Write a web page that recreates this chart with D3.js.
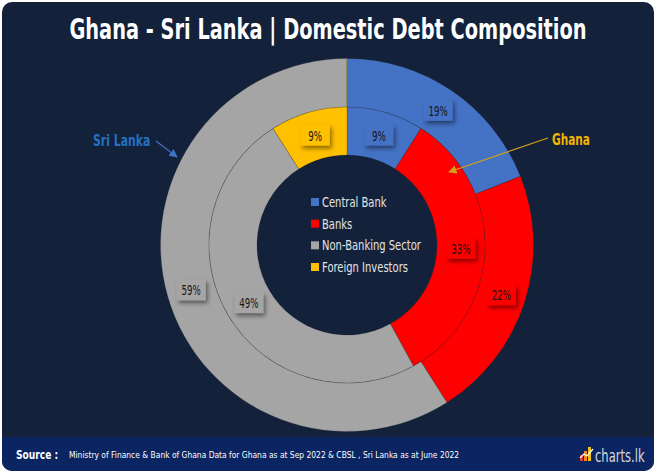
<!DOCTYPE html>
<html lang="en">
<head>
    <meta charset="UTF-8">
    <title>Ghana - Sri Lanka Domestic Debt</title>
    <style>
        body { margin: 0; background: #fff; }
        text { font-family: "DejaVu Sans", "Roboto", sans-serif; }
    </style>
    <script src="https://cdn.jsdelivr.net/npm/d3@7"></script>
</head>
<body>
<svg class="chart" width="656" height="473"></svg>
<script>
    // data
    const categories = ['Central Bank', 'Banks', 'Non-Banking Sector', 'Foreign Investors'];
    const sriLanka = [19, 22, 59, 0];   // outer ring
    const ghana = [9, 33, 49, 9];       // inner ring
    const colors = ['#4472c4', '#ff0000', '#a5a5a5', '#ffc000'];

    const W = 656, H = 473,
        cx = 347, cy = 245,
        rOuter = 186.5, rMid = 138, rHole = 90;

    const svg = d3.select('.chart');

    // no condensed font here, so text gets squeezed with a scaleX on its own group
    function squeezed(parent, x, y, k) {
        return parent.append('g').attr('transform', 'translate(' + x + ',' + y + ') scale(' + k + ',1)')
            .append('text');
    }

    // drop shadow for label boxes
    const defs = svg.append('defs');
    const f = defs.append('filter').attr('id', 'shadow')
        .attr('x', '-30%').attr('y', '-30%').attr('width', '170%').attr('height', '180%');
    f.append('feDropShadow').attr('dx', 2).attr('dy', 3).attr('stdDeviation', 2)
        .attr('flood-color', '#000').attr('flood-opacity', 0.45);

    // background panel
    svg.append('rect').attr('x', 2).attr('y', 2).attr('width', W - 4).attr('height', H - 4)
        .attr('rx', 10).attr('fill', '#13213b');

    // title
    squeezed(svg, 328, 39, 0.668)
        .attr('text-anchor', 'middle')
        .attr('font-size', 29).attr('font-weight', 'bold').attr('fill', '#fff')
        .text('Ghana - Sri Lanka | Domestic Debt Composition');

    const color = d3.scaleOrdinal().domain(categories).range(colors);
    const pie = d3.pie().sort(null).value(d => d.v);

    function ring(values, r0, r1) {
        const data = pie(categories.map((c, i) => ({ c: c, v: values[i] })));
        const arc = d3.arc().innerRadius(r0).outerRadius(r1);
        const g = svg.append('g').attr('transform', 'translate(' + cx + ',' + cy + ')');
        g.selectAll('path').data(data.filter(d => d.value > 0)).enter().append('path')
            .attr('d', arc)
            .attr('fill', d => color(d.data.c))
            .attr('stroke', 'rgba(40,40,40,0.35)')
            .attr('stroke-width', 0.6);
        return { g: g, data: data, arc: arc };
    }

    const outer = ring(sriLanka, rMid, rOuter);
    const inner = ring(ghana, rHole, rMid);

    // thin gold seam at 12 o'clock in the outer ring
    outer.g.append('line').attr('x1', 0).attr('y1', -rOuter).attr('x2', 0).attr('y2', -rMid)
        .attr('stroke', '#9a7d2a').attr('stroke-width', 1);

    // percentage boxes
    [outer, inner].forEach(r => {
        r.data.filter(d => d.value > 0).forEach(d => {
            const [x, y] = r.arc.centroid(d);
            r.g.append('rect')
                .attr('x', x - 14.5).attr('y', y - 11).attr('width', 29).attr('height', 21)
                .attr('fill', color(d.data.c))
                .attr('filter', 'url(#shadow)');
            squeezed(r.g, x, y + 5, 0.62)
                .attr('text-anchor', 'middle')
                .attr('font-size', 14).attr('fill', '#151515')
                .text(d.value + '%');
        });
    });

    // legend inside the hole
    const legendY = d3.scalePoint().domain(categories).range([202, 267]);
    const legend = svg.append('g').selectAll('g').data(categories).enter().append('g')
        .attr('transform', d => 'translate(311,' + legendY(d) + ')');
    legend.append('rect').attr('x', 0).attr('y', -4).attr('width', 8).attr('height', 8)
        .attr('fill', d => color(d));
    legend.append('g').attr('transform', 'translate(11,5) scale(0.74,1)')
        .append('text')
        .attr('font-size', 13.5).attr('fill', '#e4e4e4')
        .text(d => d);

    // annotations
    const mk = (id, c) => defs.append('marker').attr('id', id)
        .attr('viewBox', '0 0 10 10').attr('refX', 9).attr('refY', 5)
        .attr('markerWidth', 7).attr('markerHeight', 7).attr('orient', 'auto')
        .append('path').attr('d', 'M0,0L10,5L0,10z').attr('fill', c);
    mk('arBlue', '#4472c4');
    mk('arGold', '#d4a017');

    squeezed(svg, 93, 146, 0.68)
        .attr('font-size', 16).attr('font-weight', 'bold').attr('fill', '#2371c0')
        .text('Sri Lanka');
    svg.append('line').attr('x1', 156).attr('y1', 141).attr('x2', 177).attr('y2', 157)
        .attr('stroke', '#4472c4').attr('stroke-width', 1.2).attr('marker-end', 'url(#arBlue)');

    squeezed(svg, 552, 145, 0.66)
        .attr('font-size', 16).attr('font-weight', 'bold').attr('fill', '#f5b400')
        .text('Ghana');
    svg.append('line').attr('x1', 548).attr('y1', 138).attr('x2', 449).attr('y2', 172)
        .attr('stroke', '#d4a017').attr('stroke-width', 1.2).attr('marker-end', 'url(#arGold)');

    // footer
    svg.append('path')
        .attr('d', 'M2,437H654V461A10,10 0 0 1 644,471H12A10,10 0 0 1 2,461Z')
        .attr('fill', '#0b2462');
    squeezed(svg, 16, 459, 0.7)
        .attr('font-size', 13).attr('font-weight', 'bold').attr('fill', '#fff')
        .text('Source :');
    squeezed(svg, 69, 458, 0.84)
        .attr('font-size', 9).attr('fill', '#fff')
        .text('Ministry of Finance & Bank of Ghana Data for Ghana as at Sep 2022 & CBSL , Sri Lanka as at June 2022');

    // charts.lk logo
    const logo = svg.append('g').attr('transform', 'translate(580,447)');
    logo.append('rect').attr('x', 0).attr('y', 8).attr('width', 3).attr('height', 6).attr('fill', '#e8362b');
    logo.append('rect').attr('x', 4).attr('y', 4).attr('width', 3).attr('height', 10).attr('fill', '#f28a1f');
    logo.append('rect').attr('x', 8).attr('y', 0).attr('width', 3).attr('height', 14).attr('fill', '#f6c21a');
    logo.append('path').attr('d', 'M0,11L4,7L7,9L13,2').attr('fill', 'none')
        .attr('stroke', '#fff').attr('stroke-width', 1.2);
    squeezed(svg, 595, 462, 0.68)
        .attr('font-size', 17).attr('fill', '#d9d9d9')
        .text('charts.lk');
</script>
</body>
</html>
